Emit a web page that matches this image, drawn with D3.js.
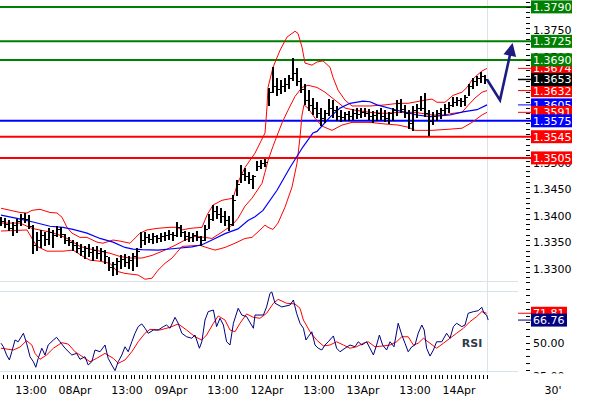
<!DOCTYPE html>
<html>
<head>
<meta charset="utf-8">
<script src="https://cdn.jsdelivr.net/npm/d3@7"></script>
<style>
  body { margin: 0; background: #fff; }
  svg { display: block; font-family: "DejaVu Sans", Verdana, sans-serif; font-size: 11px; }
</style>
</head>
<body>
<svg id="chart" width="590" height="400"></svg>
<script>
////////////////////////////////////////////////////////////////////////////////
// Data (30' chart, hourly bars: index 0 = 07Apr 05:30, weekend skipped)

var barHigh = [1.3394,1.3392,1.3388,1.3384,1.3390,1.3399,1.3401,1.3397,1.3378,1.3365,
  1.3369,1.3365,1.3373,1.3369,1.3377,1.3375,1.3361,1.3356,1.3350,1.3346,
  1.3343,1.3339,1.3343,1.3337,1.3339,1.3335,1.3331,1.3318,1.3309,1.3316,
  1.3322,1.3324,1.3320,1.3326,1.3335,1.3365,1.3365,1.3361,1.3363,1.3360,
  1.3363,1.3365,1.3369,1.3365,1.3384,1.3378,1.3367,1.3365,1.3363,1.3367,
  1.3358,1.3378,1.3399,1.3416,1.3414,1.3410,1.3405,1.3395,1.3435,1.3463,
  1.3492,1.3486,1.3478,1.3473,1.3499,1.3501,1.3503,1.3637,1.3677,1.3656,
  1.3652,1.3656,1.3661,1.3694,1.3675,1.3656,1.3644,1.3633,1.3618,1.3610,
  1.3599,1.3595,1.3616,1.3614,1.3603,1.3595,1.3592,1.3594,1.3597,1.3599,
  1.3599,1.3599,1.3597,1.3594,1.3595,1.3599,1.3595,1.3592,1.3599,1.3614,
  1.3616,1.3605,1.3595,1.3603,1.3607,1.3622,1.3627,1.3595,1.3592,1.3595,
  1.3599,1.3607,1.3610,1.3620,1.3620,1.3618,1.3624,1.3644,1.3656,1.3660,
  1.3667,1.3661];
var barLow = [1.3378,1.3375,1.3369,1.3360,1.3365,1.3378,1.3384,1.3373,1.3326,1.3331,
  1.3337,1.3341,1.3343,1.3337,1.3358,1.3356,1.3344,1.3341,1.3331,1.3327,
  1.3322,1.3316,1.3320,1.3312,1.3316,1.3312,1.3307,1.3294,1.3284,1.3286,
  1.3297,1.3301,1.3297,1.3294,1.3301,1.3337,1.3343,1.3346,1.3344,1.3346,
  1.3348,1.3350,1.3352,1.3350,1.3358,1.3358,1.3350,1.3348,1.3348,1.3350,
  1.3341,1.3350,1.3373,1.3388,1.3392,1.3384,1.3378,1.3369,1.3378,1.3435,
  1.3460,1.3463,1.3458,1.3448,1.3482,1.3486,1.3490,1.3605,1.3629,1.3624,
  1.3627,1.3631,1.3637,1.3652,1.3643,1.3629,1.3607,1.3595,1.3588,1.3582,
  1.3567,1.3573,1.3586,1.3582,1.3577,1.3575,1.3577,1.3577,1.3578,1.3580,
  1.3582,1.3584,1.3578,1.3573,1.3577,1.3578,1.3575,1.3571,1.3577,1.3586,
  1.3592,1.3582,1.3561,1.3558,1.3582,1.3595,1.3584,1.3548,1.3569,1.3577,
  1.3580,1.3588,1.3592,1.3603,1.3605,1.3603,1.3605,1.3624,1.3637,1.3643,
  1.3648,1.3646];
var barClose = [1.3385,1.3380,1.3372,1.3378,1.3386,1.3392,1.3390,1.3376,1.3340,1.3350,
  1.3360,1.3352,1.3365,1.3360,1.3370,1.3362,1.3350,1.3346,1.3340,1.3335,
  1.3330,1.3335,1.3328,1.3332,1.3325,1.3330,1.3320,1.3300,1.3305,1.3310,
  1.3315,1.3308,1.3312,1.3320,1.3330,1.3350,1.3355,1.3352,1.3358,1.3354,
  1.3357,1.3360,1.3362,1.3360,1.3375,1.3366,1.3358,1.3356,1.3360,1.3355,
  1.3350,1.3370,1.3390,1.3405,1.3400,1.3395,1.3388,1.3380,1.3425,1.3455,
  1.3475,1.3470,1.3465,1.3470,1.3490,1.3495,1.3498,1.3630,1.3640,1.3635,
  1.3640,1.3645,1.3655,1.3665,1.3650,1.3635,1.3615,1.3605,1.3600,1.3590,
  1.3580,1.3590,1.3600,1.3595,1.3585,1.3583,1.3588,1.3585,1.3590,1.3588,
  1.3592,1.3590,1.3584,1.3586,1.3590,1.3585,1.3580,1.3590,1.3595,1.3608,
  1.3598,1.3590,1.3570,1.3595,1.3600,1.3600,1.3590,1.3575,1.3585,1.3590,
  1.3595,1.3600,1.3605,1.3610,1.3614,1.3612,1.3620,1.3640,1.3650,1.3655,
  1.3660,1.3653];

// Bollinger bands and moving average, [bar index, price]
var bbUpper = [[0,1.3410],[4.75,1.3402],[6.5,1.3401],[7.75,1.3406],[9.75,1.3408],[12.25,1.3402],[14,1.3401],
  [15.25,1.3393],[16.5,1.3374],[17.75,1.3363],[19.75,1.3355],[21.5,1.3355],[24,1.3346],[25.5,1.3344],
  [28,1.3350],[29.75,1.3348],[32.25,1.3344],[34.75,1.3363],[36.5,1.3369],[39,1.3372],[42.25,1.3374],
  [44,1.3374],[45.25,1.3369],[47.25,1.3372],[50.25,1.3374],[51.5,1.3397],[53,1.3416],[55.25,1.3425],
  [58,1.3429],[59.25,1.3459],[61,1.3487],[63.5,1.3514],[66,1.3552],[66.5,1.3601],[66.75,1.3638],
  [68,1.3676],[69.75,1.3708],[71.5,1.3733],[73.5,1.3744],[74.25,1.3740],[75.25,1.3714],[76,1.3684],
  [77.75,1.3680],[79,1.3686],[80.5,1.3688],[82.25,1.3676],[83,1.3657],[84.25,1.3633],[86,1.3614],
  [87.75,1.3603],[92.25,1.3603],[96,1.3605],[99.25,1.3608],[101.75,1.3608],[106,1.3614],[107.75,1.3616],
  [109,1.3610],[111,1.3610],[113,1.3623],[115.25,1.3629],[116.5,1.3638],[117.75,1.3652],[119,1.3661],
  [120.25,1.3669],[121.5,1.3674]];
var bbMiddle = [[0,1.3382],[4.75,1.3382],[7.75,1.3372],[12.25,1.3365],[14.75,1.3359],[16.5,1.3353],
  [19.75,1.3338],[22.25,1.3333],[24.75,1.3329],[27.25,1.3325],[29.75,1.3319],[32.25,1.3316],[35.25,1.3316],
  [37.75,1.3321],[41,1.3331],[43.5,1.3340],[46,1.3350],[48.5,1.3357],[51,1.3355],[52.75,1.3353],
  [55.25,1.3365],[57.75,1.3378],[59.25,1.3391],[61,1.3414],[62.75,1.3429],[65.25,1.3457],[66,1.3478],
  [66.75,1.3500],[68,1.3527],[70.25,1.3571],[71.75,1.3595],[73.5,1.3621],[75.25,1.3638],[76.75,1.3642],
  [79,1.3638],[81,1.3629],[83.5,1.3614],[86,1.3599],[88.5,1.3595],[92.25,1.3591],[96,1.3589],
  [99.25,1.3591],[103.5,1.3591],[107.75,1.3586],[111,1.3586],[112.75,1.3589],[115.25,1.3591],
  [116.75,1.3604],[118.5,1.3618],[120.25,1.3629],[121.5,1.3632]];
var bbLower = [[0,1.3367],[6.5,1.3369],[7.75,1.3353],[9,1.3338],[11.5,1.3329],[15.5,1.3329],[18,1.3331],
  [20.5,1.3319],[22.25,1.3312],[24.75,1.3310],[27.25,1.3306],[29,1.3291],[31,1.3287],[34.25,1.3284],
  [36,1.3276],[37.75,1.3278],[39.25,1.3293],[41,1.3306],[42.75,1.3316],[44,1.3327],[45.25,1.3338],
  [49.75,1.3340],[51.75,1.3335],[53.5,1.3331],[56,1.3336],[58.5,1.3344],[61,1.3353],[62.75,1.3355],
  [64.75,1.3369],[66,1.3378],[66.75,1.3374],[68,1.3370],[69.25,1.3382],[71,1.3412],[72.75,1.3450],
  [74,1.3495],[74.75,1.3544],[75.25,1.3586],[75.75,1.3605],[76.75,1.3599],[78.5,1.3580],[80.25,1.3565],
  [82.75,1.3557],[85.25,1.3567],[87.75,1.3572],[92.25,1.3572],[96,1.3569],[99.25,1.3567],[101.75,1.3563],
  [103.5,1.3557],[107.75,1.3557],[111.75,1.3559],[115.25,1.3561],[117.75,1.3572],[120.25,1.3586],
  [121.5,1.3591]];
var maLine = [[0,1.3397],[4,1.3391],[8,1.3384],[12.25,1.3376],[15.5,1.3374],[18,1.3370],[21.5,1.3363],
  [24.75,1.3353],[28,1.3346],[31,1.3336],[33,1.3333],[35.25,1.3332],[39.25,1.3331],[43.5,1.3334],
  [47.75,1.3337],[50.25,1.3341],[52.75,1.3350],[56,1.3362],[59.25,1.3371],[61.75,1.3387],[63.5,1.3394],
  [65.5,1.3406],[69,1.3444],[72.25,1.3487],[75.5,1.3526],[78,1.3552],[79,1.3555],[82.25,1.3582],
  [84.75,1.3599],[87.25,1.3608],[90.5,1.3612],[92.25,1.3611],[94,1.3605],[99,1.3595],[104,1.3586],
  [107.25,1.3583],[112.25,1.3586],[115.5,1.3592],[119,1.3596],[121.5,1.3605]];

// RSI and its signal line, [bar index, value]
var rsiLine = [[0,49.6],[0.6,47.0],[1.4,40.9],[2.1,37.2],[2.7,43.3],[3.5,52.0],[4.3,50.7],[5.6,57.0],
  [6.4,49.6],[7.25,39.6],[8.1,35.9],[8.7,31.8],[9.3,38.4],[10.2,45.9],[11,40.9],[11.8,48.3],[13.1,52.0],
  [13.9,54.0],[14.75,50.7],[16,45.9],[17.7,40.9],[18.9,42.1],[19.75,37.7],[21,39.6],[21.8,33.5],
  [22.7,35.9],[23.5,44.6],[24.75,43.3],[26,48.3],[26.8,38.4],[27.7,33.5],[28.5,29.3],[29.3,35.9],
  [30.2,40.9],[31,47.0],[31.8,43.3],[32.7,50.7],[33.5,57.0],[34.3,61.9],[35.2,63.9],[36,60.7],
  [36.8,57.0],[38.1,59.4],[39.3,59.4],[40.6,61.9],[41.4,63.1],[42.25,60.7],[43.5,68.8],[44.3,64.4],
  [45.2,57.0],[46.4,54.4],[47.7,53.3],[48.5,55.7],[49.6,45.9],[50.2,50.7],[51,66.8],[51.8,73.0],
  [53.1,74.2],[53.9,61.9],[54.75,68.1],[55.6,63.1],[56.4,50.7],[57.25,48.3],[58.1,64.4],[59.3,75.5],
  [60.2,70.5],[61.4,69.3],[63.1,60.7],[63.5,70.5],[65.6,70.5],[66.4,76.5],[67.25,86.6],[67.7,87.6],
  [68.5,79.2],[70.2,76.5],[72.25,77.9],[73.1,81.6],[73.9,71.8],[74.75,64.4],[75.6,60.7],[76.25,52.0],
  [76.8,54.4],[77.7,58.1],[78.5,48.3],[79.3,45.9],[80.2,44.6],[81,48.3],[81.8,50.7],[83.1,55.0],
  [83.9,45.9],[84.75,43.3],[86,45.9],[87.25,48.3],[88.5,47.0],[89.3,50.7],[90.2,48.3],[91.4,50.7],
  [92.25,45.9],[93.1,40.9],[93.9,48.3],[94.6,55.7],[95.4,48.3],[96.4,44.6],[97.25,50.7],[98.25,47.0],
  [99.3,64.4],[100.2,55.7],[101,49.6],[101.8,43.3],[102.7,47.0],[103.5,48.3],[104.3,57.0],[105.2,63.1],
  [105.8,59.4],[106.4,45.9],[107.25,40.1],[108.1,44.6],[108.9,50.7],[110.2,50.7],[111.4,57.0],
  [112.25,53.3],[113.1,61.9],[113.9,64.4],[115.2,61.9],[116,63.1],[116.8,71.8],[118.1,73.0],
  [119.3,73.7],[120.2,76.2],[120.75,71.8],[121.4,70.5],[121.8,66.76]];
var rsiSignal = [[0,45.9],[3.1,44.6],[4.75,46.8],[6.4,51.5],[7.7,48.3],[8.5,42.1],[9.75,37.7],[11.4,40.9],
  [13.1,45.9],[15.2,50.0],[16.8,49.0],[18.5,43.3],[20.6,39.2],[22.25,35.9],[23.9,38.4],[26,42.1],
  [28.1,38.4],[29.3,34.7],[31,37.2],[32.7,43.3],[34.3,50.7],[36,57.0],[37.25,59.9],[39.75,59.4],
  [42.25,61.4],[44.3,63.9],[46.4,59.4],[48.5,54.4],[50.2,52.0],[51.4,55.7],[53.1,64.4],[54.3,69.8],
  [56,66.8],[57.25,59.4],[58.5,58.1],[59.75,64.4],[61.4,71.3],[63.1,68.8],[64.75,68.1],[66.4,71.8],
  [68.1,79.2],[69.3,82.1],[71.4,79.2],[73.5,78.7],[74.75,75.5],[75.6,66.8],[77.25,58.1],[78.9,52.0],
  [80.6,47.6],[82.25,48.3],[83.9,50.7],[85.6,48.3],[87.25,45.9],[88.9,47.0],[90.6,49.6],[91.8,50.7],
  [93.5,47.0],[95.6,47.6],[97.25,48.3],[98.9,50.7],[100.2,54.4],[101.8,54.4],[103.1,48.3],[104.3,49.6],
  [105.6,53.3],[107.25,49.6],[108.9,45.9],[110.6,49.6],[112.25,53.3],[113.9,57.0],[115.6,60.7],
  [117.25,65.6],[118.9,69.3],[120.2,73.0],[121.4,71.81]];

// Key levels
var resistanceLevels = [1.3790, 1.3725, 1.3690];
var pivotLevels = [1.3575];
var supportLevels = [1.3545, 1.3505];

// Forecast arrow
var forecastT = [121.5, 124.75, 127.9];
var forecastP = [1.3653, 1.3614, 1.3722];

// Time axis
var timeLabels = ["13:00", "08Apr", "13:00", "09Apr", "13:00", "12Apr", "13:00", "13Apr", "13:00", "14Apr"];
var timeLabelAt = [7.5, 18.5, 31.5, 42.5, 55.5, 66.5, 79.5, 90.5, 103.5, 114.5];
var rsiAxisLabels = [25, 50];

////////////////////////////////////////////////////////////////////////////////
// Layout

var plotRight = 518, boxX = 531, axisTickX = 526;
var mainBottom = 281, rsiTop = 291, rsiBottom = 371, timeAxisY = 375;
var gridColor = "#d9e4ea", navy = "#000080";
var colRes = "#008000", colSup = "#ff0000", colPiv = "#0000ff";

var svg = d3.select("#chart");

var x = d3.scaleLinear().domain([0, 121]).range([1, 485]);
var y = d3.scaleLinear().domain([1.3274, 1.3803]).range([280.3, 0]);
var yr = d3.scaleLinear().domain([0, 100]).range([410.2, 275.2]);

var defs = svg.append("defs");
defs.append("clipPath").attr("id", "clipMain").append("rect")
  .attr("x", 0).attr("y", 0).attr("width", plotRight).attr("height", mainBottom);
defs.append("clipPath").attr("id", "clipMainAxis").append("rect")
  .attr("x", plotRight).attr("y", 0).attr("width", 590 - plotRight).attr("height", mainBottom);
defs.append("clipPath").attr("id", "clipRsiAxis").append("rect")
  .attr("x", plotRight).attr("y", 282).attr("width", 590 - plotRight).attr("height", 90);
defs.append("clipPath").attr("id", "clipRsiText").append("rect")
  .attr("x", plotRight).attr("y", 282).attr("width", 590 - plotRight).attr("height", 91.5);

// grid / frame
var grid = svg.append("g").attr("stroke", gridColor).attr("shape-rendering", "crispEdges");
[mainBottom, rsiTop, rsiBottom].forEach(function(gy) {
  grid.append("line").attr("x1", 0).attr("x2", plotRight).attr("y1", gy + 0.5).attr("y2", gy + 0.5);
});
grid.append("line").attr("x1", x(121.6) + 0.5).attr("x2", x(121.6) + 0.5).attr("y1", 0).attr("y2", rsiBottom + 2);

// key levels
var levels = [];
resistanceLevels.forEach(function(v) { levels.push({ v: v, c: colRes }); });
pivotLevels.forEach(function(v) { levels.push({ v: v, c: colPiv }); });
supportLevels.forEach(function(v) { levels.push({ v: v, c: colSup }); });

svg.append("g").selectAll("line").data(levels).enter().append("line")
  .attr("x1", 0).attr("x2", boxX)
  .attr("y1", function(d) { return y(d.v); }).attr("y2", function(d) { return y(d.v); })
  .attr("stroke", function(d) { return d.c; }).attr("stroke-width", 2);

// bands and moving average
var main = svg.append("g").attr("clip-path", "url(#clipMain)");
var line = d3.line().x(function(d) { return x(d[0]); }).y(function(d) { return y(d[1]); });
[bbUpper, bbMiddle, bbLower].forEach(function(s) {
  main.append("path").attr("d", line(s)).attr("fill", "none").attr("stroke", "#ff0000").attr("stroke-width", 1);
});
main.append("path").attr("d", line(maLine)).attr("fill", "none").attr("stroke", "#0000ff").attr("stroke-width", 1.2);

// OHLC bars
var bars = main.append("g").attr("stroke", "#000").attr("shape-rendering", "crispEdges");
barHigh.forEach(function(h, k) {
  var bx = Math.round(x(k));
  var open = k > 0 ? barClose[k - 1] : barClose[k];
  var oy = Math.round(y(open)) + 0.5, cy = Math.round(y(barClose[k])) + 0.5;
  bars.append("line").attr("x1", bx).attr("x2", bx).attr("y1", y(h)).attr("y2", y(barLow[k]) + 1).attr("stroke-width", 2);
  bars.append("line").attr("x1", bx - 3).attr("x2", bx - 1).attr("y1", oy).attr("y2", oy);
  bars.append("line").attr("x1", bx + 1).attr("x2", bx + 3).attr("y1", cy).attr("y2", cy);
});

// forecast arrow
var fPts = forecastT.map(function(t, i) { return [x(t), y(forecastP[i])]; });
var tip = fPts[2], prev = fPts[1];
var dx = tip[0] - prev[0], dy = tip[1] - prev[1], len = Math.sqrt(dx * dx + dy * dy);
var ux = dx / len, uy = dy / len, hl = 13, hw = 6.5;
var lineEnd = [tip[0] - ux * (hl - 2), tip[1] - uy * (hl - 2)];
svg.append("path")
  .attr("d", d3.line()([fPts[0], fPts[1], lineEnd]))
  .attr("fill", "none").attr("stroke", "#1c1c82").attr("stroke-width", 2.6).attr("stroke-linejoin", "miter");
svg.append("path")
  .attr("d", "M" + tip[0] + "," + tip[1] +
    "L" + (tip[0] - ux * hl - uy * hw) + "," + (tip[1] - uy * hl + ux * hw) +
    "L" + (tip[0] - ux * hl + uy * hw) + "," + (tip[1] - uy * hl - ux * hw) + "Z")
  .attr("fill", "#1c1c82");

// RSI panel
var rline = d3.line().x(function(d) { return x(d[0]); }).y(function(d) { return yr(d[1]); });
svg.append("path").attr("d", rline(rsiSignal)).attr("fill", "none").attr("stroke", "#ff0000").attr("stroke-width", 1);
svg.append("path").attr("d", rline(rsiLine)).attr("fill", "none").attr("stroke", navy).attr("stroke-width", 1);
svg.append("text").attr("x", 472).attr("y", 346.5).attr("text-anchor", "middle")
  .attr("font-weight", "bold").attr("fill", "#2d3b48").text("RSI");

// value boxes list: indicators (lower ones drawn on top), price, then key levels
var last = function(s) { return s[s.length - 1][1]; };
var ind = [
  { v: last(bbUpper), c: "#ff0000", m: 1 },
  { v: last(bbMiddle), c: "#ff0000", m: 1 },
  { v: last(maLine), c: "#0000ff", m: 1 },
  { v: last(bbLower), c: "#ff0000", m: 1 }
].sort(function(a, b) { return b.v - a.v; });
var priceBoxes = ind.concat([{ v: barClose[barClose.length - 1], c: "#000", m: 1.5 }])
  .concat(levels.map(function(d) { return { v: d.v, c: d.c, m: 0 }; }));

// price axis
var pAxis = svg.append("g").attr("clip-path", "url(#clipMainAxis)");
var pMinor = d3.range(13280, 13801, 10).map(function(v) { return v / 10000; });
pAxis.selectAll("line.tick").data(pMinor).enter().append("line")
  .attr("x1", axisTickX).attr("x2", axisTickX + 4)
  .attr("y1", function(d) { return Math.round(y(d)) + 0.5; }).attr("y2", function(d) { return Math.round(y(d)) + 0.5; })
  .attr("stroke", "#000").attr("shape-rendering", "crispEdges");
// labels hidden completely behind a value box (or off the top) are left out
function underBox(py) { return py < 2 || priceBoxes.some(function(b) { return Math.abs(py - y(b.v)) <= 6.5; }); }
var pMajor = d3.range(13300, 13801, 50).map(function(v) { return v / 10000; })
  .filter(function(v) { return !(underBox(y(v) - 2) && underBox(y(v) + 6)); });
pAxis.selectAll("text.lbl").data(pMajor).enter().append("text")
  .attr("x", boxX + 2).attr("y", function(d) { return y(d) + 6; })
  .attr("fill", "#000").text(function(d) { return d.toFixed(4); });

// RSI axis
var rAxis = svg.append("g").attr("clip-path", "url(#clipRsiAxis)");
rAxis.selectAll("line").data(d3.range(20, 101, 5)).enter().append("line")
  .attr("x1", axisTickX).attr("x2", axisTickX + 4)
  .attr("y1", function(d) { return Math.round(yr(d)) + 0.5; }).attr("y2", function(d) { return Math.round(yr(d)) + 0.5; })
  .attr("stroke", "#000").attr("shape-rendering", "crispEdges");
svg.append("g").attr("clip-path", "url(#clipRsiText)").selectAll("text").data(rsiAxisLabels).enter().append("text")
  .attr("x", boxX + 2).attr("y", function(d) { return yr(d) + 4; })
  .attr("fill", "#000").text(function(d) { return d.toFixed(2); });

function box(g, v, col, scale, w, fmt, marker) {
  var yy = scale(v);
  if (marker) {
    g.append("line").attr("x1", plotRight).attr("x2", boxX).attr("y1", yy).attr("y2", yy)
      .attr("stroke", col).attr("stroke-width", marker);
  }
  g.append("rect").attr("x", boxX).attr("y", yy - 6.5).attr("width", w).attr("height", 13).attr("fill", col);
  g.append("text").attr("x", boxX + 2).attr("y", yy + 4).attr("fill", "#fff").text(v.toFixed(fmt));
}
var boxes = svg.append("g").attr("clip-path", "url(#clipMainAxis)");
priceBoxes.forEach(function(d) { box(boxes, d.v, d.c, y, 41, 4, d.m); });

var rBoxes = svg.append("g");
box(rBoxes, last(rsiSignal), "#ff0000", yr, 36, 2, 1);
box(rBoxes, last(rsiLine), navy, yr, 36, 2, 1);

// time axis
var tAxis = svg.append("g");
tAxis.selectAll("line").data(d3.range(0, 122)).enter().append("line")
  .attr("x1", function(d) { return Math.round(x(d) + 1.5) + 0.5; })
  .attr("x2", function(d) { return Math.round(x(d) + 1.5) + 0.5; })
  .attr("y1", timeAxisY).attr("y2", timeAxisY + 4)
  .attr("stroke", "#000").attr("shape-rendering", "crispEdges");
tAxis.selectAll("text").data(timeLabels).enter().append("text")
  .attr("x", function(d, i) { return x(timeLabelAt[i]); }).attr("y", 394)
  .attr("text-anchor", "middle").attr("fill", "#000").text(function(d) { return d; });
svg.append("text").attr("x", 553).attr("y", 394).attr("text-anchor", "middle").attr("fill", "#000").text("30'");
</script>
</body>
</html>
